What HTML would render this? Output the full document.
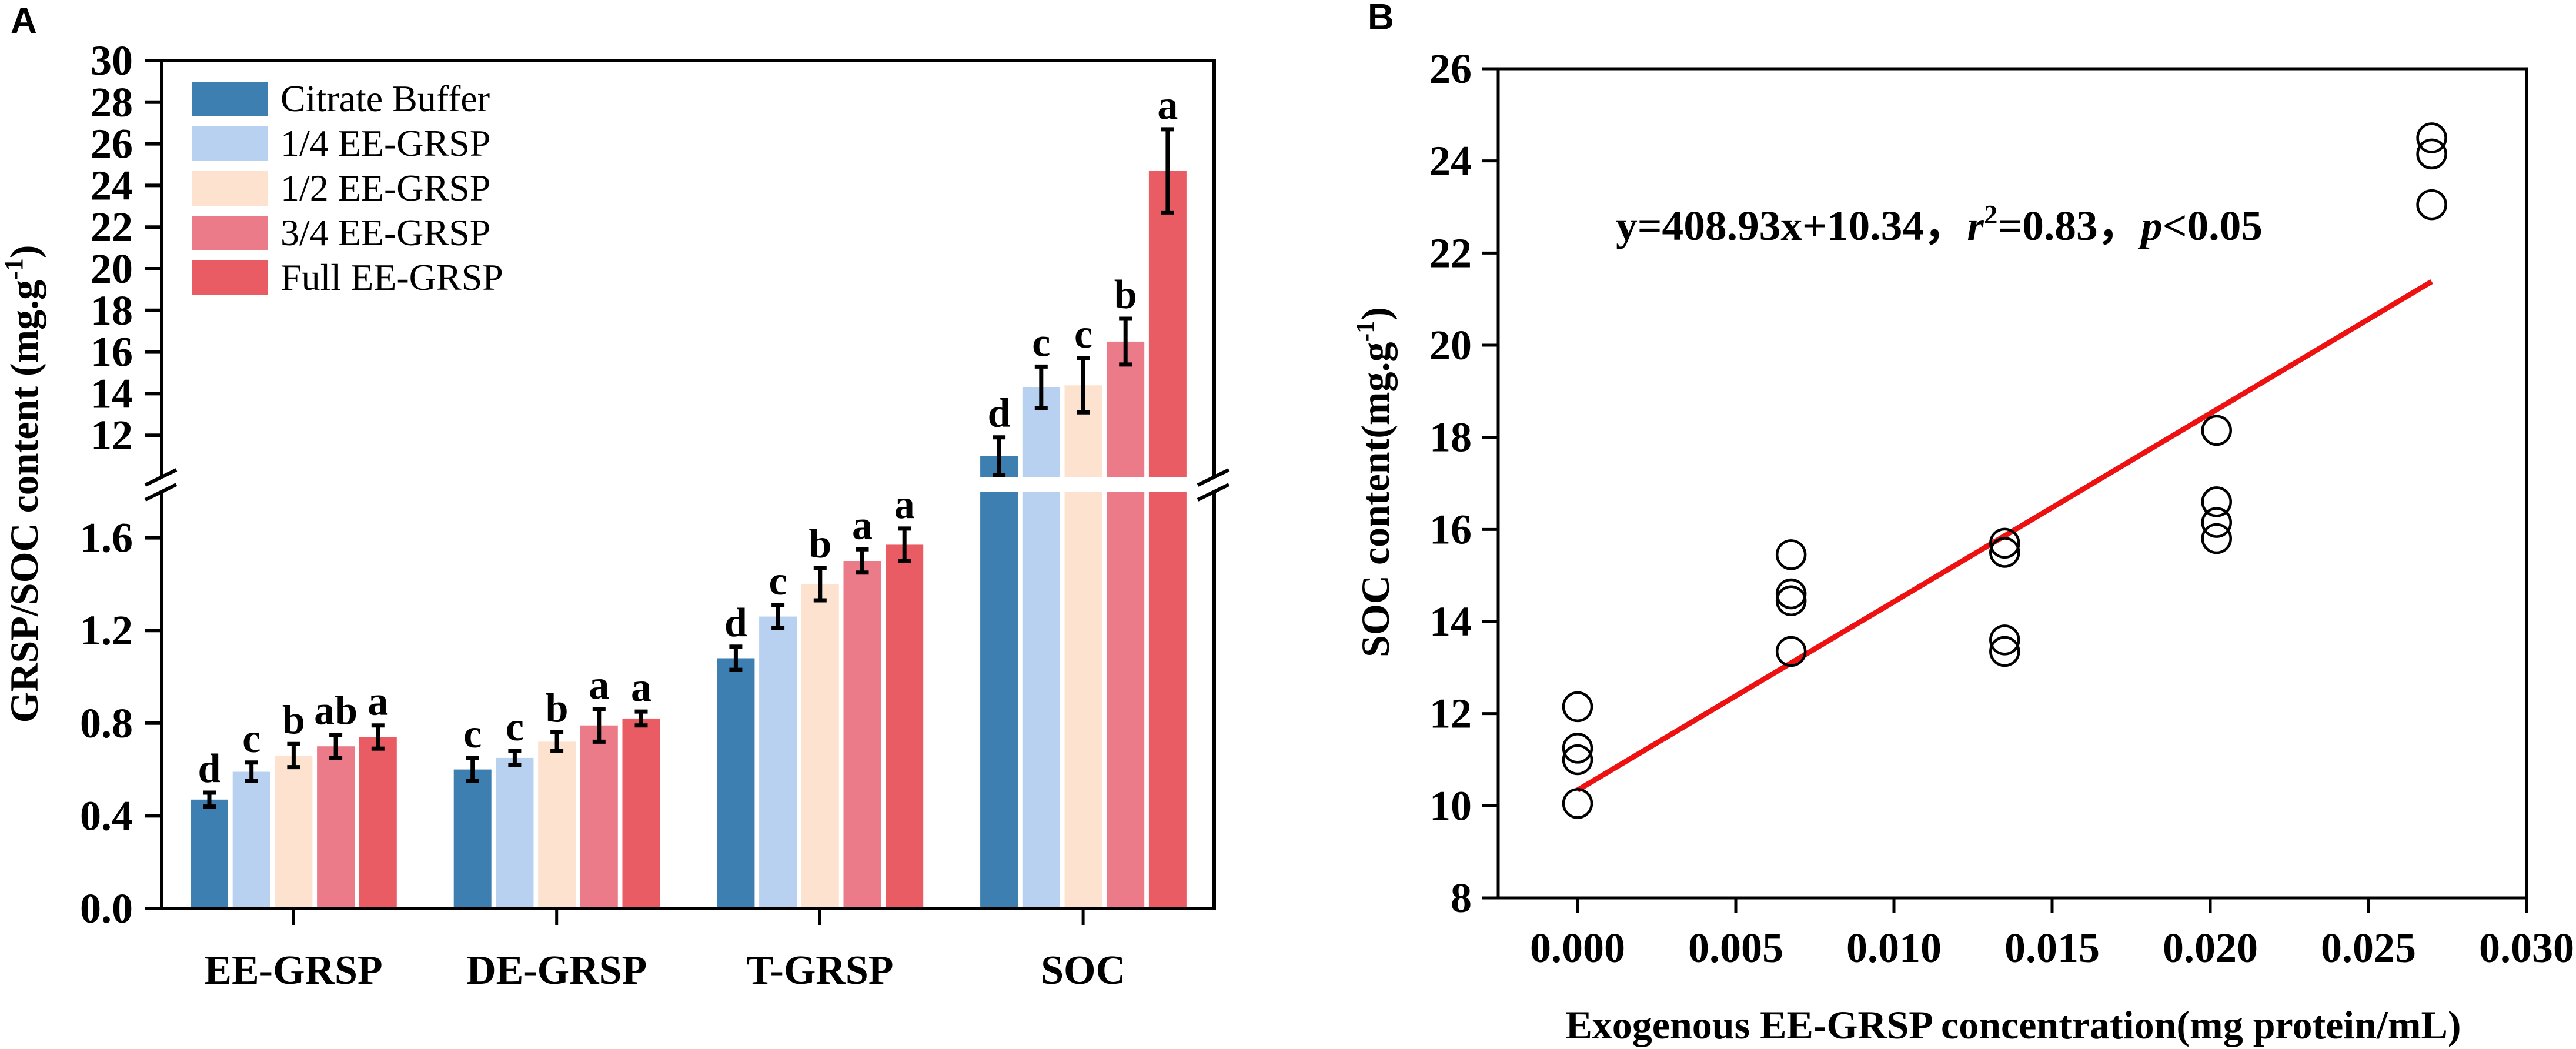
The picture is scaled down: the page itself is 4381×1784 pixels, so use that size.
<!DOCTYPE html>
<html><head><meta charset="utf-8"><style>
html,body{margin:0;padding:0;background:#fff;}
svg{display:block;font-family:"Liberation Serif","Times New Roman",serif;}
</style></head><body>
<svg id="fig" width="4381" height="1784" viewBox="0 0 4381 1784" xmlns="http://www.w3.org/2000/svg">
<g id="pa"></g>
<g id="pb"></g>
</svg>
<script>
// ===== Panel A data =====
const categoriesA = ["EE-GRSP","DE-GRSP","T-GRSP","SOC"];
const seriesNames = ["Citrate Buffer","1/4 EE-GRSP","1/2 EE-GRSP","3/4 EE-GRSP","Full EE-GRSP"];
const valsCitrate = [0.47, 0.60, 1.08, 11.0];
const valsQuarter = [0.59, 0.65, 1.26, 14.3];
const valsHalf = [0.66, 0.72, 1.40, 14.4];
const valsThreeQ = [0.70, 0.79, 1.50, 16.5];
const valsFull = [0.74, 0.82, 1.57, 24.7];
const errCitrate = [0.03, 0.05, 0.05, 0.9];
const errQuarter = [0.04, 0.03, 0.05, 1.0];
const errHalf = [0.05, 0.04, 0.07, 1.3];
const errThreeQ = [0.05, 0.07, 0.05, 1.1];
const errFull = [0.05, 0.03, 0.07, 2.0];
const lettersCitrate = ["d","c","d","d"];
const lettersQuarter = ["c","c","c","c"];
const lettersHalf = ["b","b","b","c"];
const lettersThreeQ = ["ab","a","a","b"];
const lettersFull = ["a","a","a","a"];
const lowerTicks = ["0.0","0.4","0.8","1.2","1.6"];
const upperTicks = ["12","14","16","18","20","22","24","26","28","30"];
// ===== Panel B data =====
const concX = [0,0,0,0, 0.00675,0.00675,0.00675,0.00675, 0.0135,0.0135,0.0135,0.0135, 0.0202,0.0202,0.0202,0.0202, 0.027,0.027,0.027];
const socY = [12.15,11.25,11.0,10.05, 15.45,14.6,14.45,13.35, 15.7,15.5,13.6,13.35, 18.15,16.6,16.15,15.8, 24.5,24.15,23.05];
const fitSlope = 408.93, fitIntercept = 10.34;
const fitRange = [0, 0.027];
const xTicksB = ["0.000","0.005","0.010","0.015","0.020","0.025","0.030"];
const yTicksB = ["8","10","12","14","16","18","20","22","24","26"];

const NS = "http://www.w3.org/2000/svg";
function mk(parent, tag, attrs, text){
  const e = document.createElementNS(NS, tag);
  for (const k in attrs) e.setAttribute(k, attrs[k]);
  if (text !== undefined) e.textContent = text;
  parent.appendChild(e); return e;
}

// ---------- Panel A ----------
(function(){
  const g = document.getElementById('pa');
  const L = 275, R = 2065, T = 103, B = 1545;
  const lowTop = 837, upBot = 811;
  const yLow = v => B - v * 394;
  const yUp = v => upBot - (v - 10) * 35.4;
  const colors = ["#3d7fb0","#b8d1f0","#fde3cf","#ec7b8a","#e95c64"];
  const vals = [valsCitrate,valsQuarter,valsHalf,valsThreeQ,valsFull];
  const errs = [errCitrate,errQuarter,errHalf,errThreeQ,errFull];
  const lets = [lettersCitrate,lettersQuarter,lettersHalf,lettersThreeQ,lettersFull];
  const groupStart = i => 324 + i * 447.7;
  const barW = 64, pitch = 71.7;

  let t = mk(g,'text',{x:18,y:56,'font-family':'Liberation Sans, sans-serif','font-weight':'bold','font-size':62},'A');
   

  categoriesA.forEach((c, ci) => {
    const upper = ci === 3;
    for (let s = 0; s < 5; s++) {
      const x = groupStart(ci) + s * pitch;
      const v = vals[s][ci], e = errs[s][ci];
      let r;
      if (upper) {
        r = mk(g,'rect',{x:x,y:lowTop,width:barW,height:B-lowTop,fill:colors[s]});
         
        r = mk(g,'rect',{x:x,y:yUp(v),width:barW,height:upBot-yUp(v),fill:colors[s]});
      } else {
        r = mk(g,'rect',{x:x,y:yLow(v),width:barW,height:B-yLow(v),fill:colors[s]});
      }
       
      const yf = upper ? yUp : yLow;
      const cx = x + barW/2, y1 = yf(v+e), y2 = yf(v-e);
      const eb = mk(g,'path',{d:`M${cx} ${y1}V${y2}M${cx-11} ${y1}H${cx+11}M${cx-11} ${y2}H${cx+11}`,stroke:'#000','stroke-width':7,fill:'none'});
       
      const lt = mk(g,'text',{x:cx,y:y1-18,'text-anchor':'middle','font-weight':'bold','font-size':70},lets[s][ci]);
       
    }
    const tx = groupStart(ci) + 175;
    const tk = mk(g,'line',{x1:tx,y1:B,x2:tx,y2:B+28,stroke:'#000','stroke-width':5});
     
    const cl = mk(g,'text',{x:tx,y:1673,'text-anchor':'middle','font-weight':'bold','font-size':70},c);
     
  });

  const fr = mk(g,'path',{d:`M${L} ${upBot}V${T}H${R}V${upBot}M${L} ${lowTop}V${B}H${R}V${lowTop}`,stroke:'#000','stroke-width':6,fill:'none'});
   
  const bx0 = mk(g,'path',{d:`M${L-28} ${B}H${L}`,stroke:'#000','stroke-width':6});
   
  [L,R].forEach((ax,i)=>{
    const bm = mk(g,'path',{d:`M${ax-28} ${825}L${ax+25} ${799}M${ax-28} ${850}L${ax+25} ${824}`,stroke:'#000','stroke-width':6});
     
  });
  lowerTicks.forEach(s=>{
    const y = yLow(parseFloat(s));
    const tk = mk(g,'line',{x1:L-28,y1:y,x2:L,y2:y,stroke:'#000','stroke-width':6});
     
    const tl = mk(g,'text',{x:226,y:y+24,'text-anchor':'end','font-weight':'bold','font-size':72},s);
     
  });
  upperTicks.forEach(s=>{
    const y = yUp(parseFloat(s));
    const tk = mk(g,'line',{x1:L-28,y1:y,x2:L,y2:y,stroke:'#000','stroke-width':6});
     
    const tl = mk(g,'text',{x:226,y:y+24,'text-anchor':'end','font-weight':'bold','font-size':72},s);
     
  });
  const yt = mk(g,'text',{x:0,y:0,transform:'translate(64,823) rotate(-90)','text-anchor':'middle','font-weight':'bold','font-size':68});
   
  yt.innerHTML = 'GRSP/SOC content (mg.g<tspan dy="-26" font-size="44">-1</tspan><tspan dy="26">)</tspan>';

  seriesNames.forEach((n,i)=>{
    const y = 139 + i*76;
    const sw = mk(g,'rect',{x:327,y:y,width:129,height:59,fill:colors[i]});
     
    const lt = mk(g,'text',{x:477,y:y+50,'font-size':64},n);
     
  });
})();

// ---------- Panel B ----------
(function(){
  const g = document.getElementById('pb');
  const L = 2548, R = 4297, T = 117, B = 1527;
  const xS = v => 2683 + v * (R - 2683) / 0.030;
  const yS = v => B - (v - 8) * (B - T) / 18;
  let t = mk(g,'text',{x:2326,y:50,'font-family':'Liberation Sans, sans-serif','font-weight':'bold','font-size':62},'B');
   
  const fr = mk(g,'rect',{x:L,y:T,width:R-L,height:B-T,fill:'none',stroke:'#000','stroke-width':5});
   
  const ext = mk(g,'path',{d:`M${L-28} ${B}H${L}`,stroke:'#000','stroke-width':5});
   
  yTicksB.forEach(s=>{
    const y = yS(parseFloat(s));
    const tk = mk(g,'line',{x1:L-28,y1:y,x2:L,y2:y,stroke:'#000','stroke-width':5});
     
    const tl = mk(g,'text',{x:2503,y:y+24,'text-anchor':'end','font-weight':'bold','font-size':72},s);
     
  });
  xTicksB.forEach(s=>{
    const x = xS(parseFloat(s));
    const tk = mk(g,'line',{x1:x,y1:B,x2:x,y2:B+26,stroke:'#000','stroke-width':5});
     
    const tl = mk(g,'text',{x:x,y:1636,'text-anchor':'middle','font-weight':'bold','font-size':72},s);
     
  });
  const fl = mk(g,'line',{x1:xS(fitRange[0]),y1:yS(fitSlope*fitRange[0]+fitIntercept),x2:xS(fitRange[1]),y2:yS(fitSlope*fitRange[1]+fitIntercept),stroke:'#ee1111','stroke-width':9});
   
  concX.forEach((cx,i)=>{
    const c = mk(g,'circle',{cx:xS(cx),cy:yS(socY[i]),r:24,fill:'none',stroke:'#000','stroke-width':4.5});
     
  });
  const eq = mk(g,'text',{x:2748,y:408,'font-weight':'bold','font-size':72,textLength:1100,lengthAdjust:'spacingAndGlyphs'});
   
  eq.innerHTML = 'y=408.93x+10.34，<tspan font-style="italic">r</tspan><tspan dy="-28" font-size="46">2</tspan><tspan dy="28">=0.83，</tspan><tspan font-style="italic">p</tspan>&lt;0.05';
  const yt = mk(g,'text',{x:0,y:0,transform:'translate(2362,820) rotate(-90)','text-anchor':'middle','font-weight':'bold','font-size':68});
   
  yt.innerHTML = 'SOC content(mg.g<tspan dy="-26" font-size="44">-1</tspan><tspan dy="26">)</tspan>';
  const xt = mk(g,'text',{x:3424,y:1766,'text-anchor':'middle','font-weight':'bold','font-size':68},'Exogenous EE-GRSP concentration(mg protein/mL)');
   
})();
</script>
</body></html>
